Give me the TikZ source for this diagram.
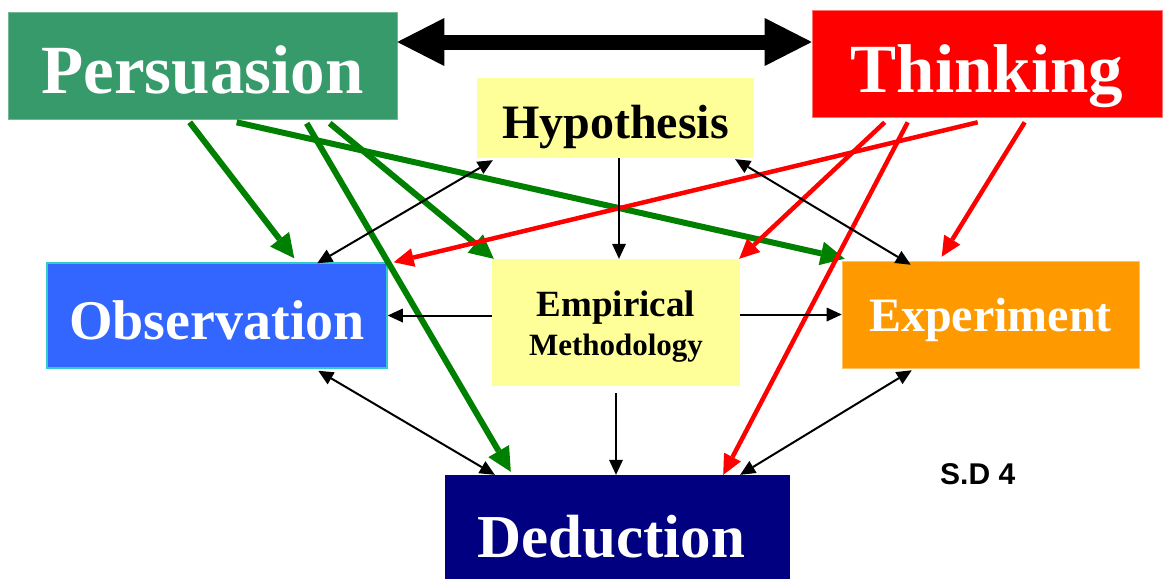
\documentclass[tikz,border=0pt]{standalone}
\usepackage{fontspec}
\setmainfont{Liberation Serif}
\newfontfamily\sdfont{Liberation Sans}
\usetikzlibrary{arrows.meta}
\definecolor{persgreen}{HTML}{369A6B}
\definecolor{thinkred}{HTML}{FF0000}
\definecolor{paleyellow}{HTML}{FFFF99}
\definecolor{obsblue}{HTML}{3366FF}
\definecolor{obscyan}{HTML}{33CCCC}
\definecolor{exporange}{HTML}{FF9900}
\definecolor{dednavy}{HTML}{000080}
\definecolor{arrgreen}{HTML}{008000}
\definecolor{arrred}{HTML}{FF0000}
\begin{document}
\begin{tikzpicture}[x=1pt,y=-1pt,
  box/.style={rectangle, inner sep=0pt, font=\bfseries, text depth=0pt},
  bigarrow/.style={line width=15pt, {Triangle[length=47pt,width=48pt,line width=0pt]}-{Triangle[length=47pt,width=48pt,line width=0pt]}},
  garrow/.style={draw=arrgreen, line width=6pt, -{Triangle[length=24pt,width=24pt,line width=0pt]}},
  rarrow/.style={draw=arrred, line width=4.5pt, -{Triangle[length=20pt,width=19pt,line width=0pt]}},
  barrow/.style={draw=black, line width=2pt, -{Triangle[length=15pt,width=14pt,line width=0pt]}},
  bbarrow/.style={draw=black, line width=2pt, {Triangle[length=15pt,width=14pt,line width=0pt]}-{Triangle[length=15pt,width=14pt,line width=0pt]}}
]
\useasboundingbox (0,0) rectangle (1167,579);

% boxes
\node[box, fill=persgreen, draw=persgreen!70!white, line width=0.6pt, text=white,
  minimum width=389pt, minimum height=107pt, text height=55pt]
  (pers) at (202.5,65.5) {\fontsize{69}{69}\selectfont Persuasion};
\node[box, fill=thinkred, draw=thinkred!55!white, line width=0.6pt, text=white,
  minimum width=350pt, minimum height=107pt, text height=57pt]
  (think) at (987,63.5) {\fontsize{69}{69}\selectfont Thinking};
\node[box, fill=paleyellow, text=black,
  minimum width=277pt, minimum height=80pt, text height=40pt]
  (hyp) at (615.5,118) {\fontsize{48}{48}\selectfont Hypothesis};
\node[box, fill=obsblue, draw=obscyan, line width=1.5pt, text=white,
  minimum width=340pt, minimum height=105pt, text height=47pt]
  (obs) at (217,315.5) {\fontsize{56}{56}\selectfont Observation};
\node[box, fill=paleyellow, text=black,
  minimum width=248pt, minimum height=127pt, text height=65pt]
  (emp) at (616,322.5) {\vbox{\baselineskip=39pt\lineskiplimit=-1000pt
     \hbox to 240pt{\hss\fontsize{37}{39}\selectfont Empirical\hss}%
     \hbox to 240pt{\hss\fontsize{31}{39}\selectfont Methodology\hss}}};
\node[box, fill=exporange, draw=exporange!60!white, line width=0.6pt, text=white,
  minimum width=297pt, minimum height=107pt, text height=33pt]
  (exp) at (990.5,314.5) {\fontsize{48}{48}\selectfont Experiment};
\node[box, fill=dednavy, text=white,
  minimum width=345pt, minimum height=104pt, text height=60pt]
  (ded) at (617.5,527) {\fontsize{61}{61}\selectfont Deduction\kern12pt};
\node[anchor=base west, inner sep=0pt, font=\sdfont\bfseries\fontsize{30}{30}\selectfont]
  (sd) at (940,484) {S.D 4};

% big double arrow
\draw[bigarrow] ([yshift=23.5pt]pers.east) -- ([yshift=21.5pt]think.west);

% green arrows
\draw[garrow] ([xshift=182pt,yshift=-3pt]pers.south west) -- ([xshift=248pt,yshift=4pt]obs.north west);
\draw[garrow] ([xshift=229pt,yshift=-3pt]pers.south west) -- ([xshift=3pt,yshift=2pt]exp.north west);
\draw[garrow] ([xshift=299pt,yshift=-4pt]pers.south west) -- ([xshift=66pt,yshift=3pt]ded.north west);
\draw[garrow] ([xshift=322pt,yshift=-4pt]pers.south west) -- ([xshift=2pt]emp.north west);

% red arrows
\draw[rarrow] ([xshift=166pt,yshift=-5pt]think.south west) -- ([xshift=6pt]obs.north east);
\draw[rarrow] ([xshift=73pt,yshift=-5pt]think.south west) -- ([xshift=-1pt]emp.north east);
\draw[rarrow] ([xshift=96pt,yshift=-5pt]think.south west) -- ([xshift=-67pt]ded.north east);
\draw[rarrow] ([xshift=213pt,yshift=-5pt]think.south west) -- ([xshift=100pt,yshift=4pt]exp.north west);

% black arrows
\draw[barrow] ([xshift=3.5pt]hyp.south) -- ([xshift=3pt]emp.north);
\draw[barrow] (obs.east -| emp.west) -- (obs.east);
\draw[barrow] (exp.west -| emp.east) -- (exp.west);
\draw[barrow] ([yshift=-7pt]emp.south) -- (emp.south |- ded.north);
\draw[bbarrow] ([xshift=271pt,yshift=-1pt]obs.north west) -- ([xshift=16pt,yshift=-2pt]hyp.south west);
\draw[bbarrow] ([xshift=-19pt,yshift=-1pt]hyp.south east) -- ([xshift=69pt,yshift=-4pt]exp.north west);
\draw[bbarrow] ([xshift=272pt,yshift=-2pt]obs.south west) -- ([xshift=50pt]ded.north west);
\draw[bbarrow] ([xshift=70pt,yshift=-2pt]exp.south west) -- ([xshift=-50pt]ded.north east);
\end{tikzpicture}
\end{document}
